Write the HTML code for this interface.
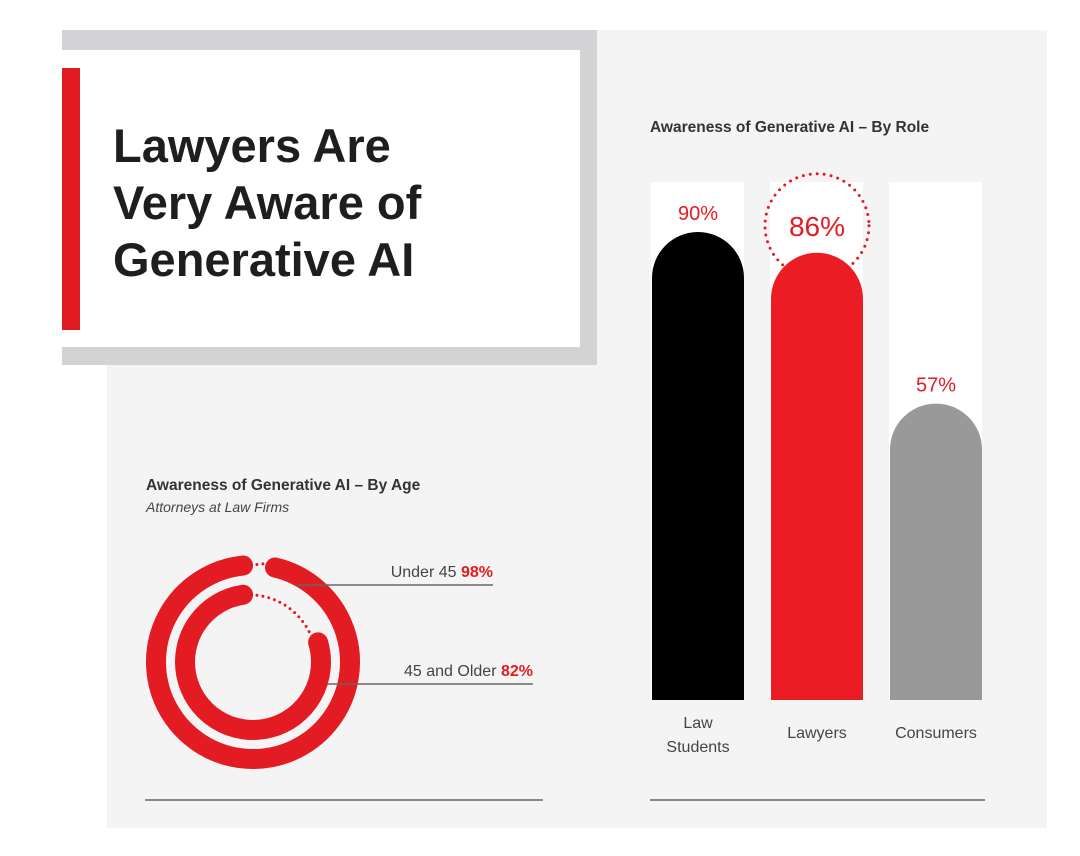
<!DOCTYPE html>
<html><head><meta charset="utf-8"><style>
body{margin:0;width:1080px;height:851px;background:#fff;overflow:hidden;font-family:"Liberation Sans",sans-serif}
</style></head><body>
<svg width="1080" height="851" viewBox="0 0 1080 851" xmlns="http://www.w3.org/2000/svg">
<rect x="107" y="30" width="940" height="798" fill="#f4f4f4"/>
<rect x="62" y="30" width="535" height="335" fill="#d3d3d5"/>
<rect x="62" y="50" width="518" height="297" fill="#fff"/>
<rect x="62" y="68" width="18" height="262" fill="#e31b23"/>
<g font-weight="bold" font-size="47" fill="#1e1e1e">
<text x="113" y="162">Lawyers Are</text>
<text x="113" y="219">Very Aware of</text>
<text x="113" y="276">Generative AI</text>
</g>
<text x="650" y="132" font-size="15.5" font-weight="bold" fill="#333">Awareness of Generative AI – By Role</text>
<text x="146" y="490" font-size="15.5" font-weight="bold" fill="#333">Awareness of Generative AI – By Age</text>
<text x="146" y="512" font-size="14" font-style="italic" fill="#444">Attorneys at Law Firms</text>
<line x1="145" y1="800" x2="543" y2="800" stroke="#888" stroke-width="2"/>
<line x1="650" y1="800" x2="985" y2="800" stroke="#888" stroke-width="2"/>
<g id="bars"></g>
<g id="rings"></g>
</svg>
<script>
const roleCats=["Law Students","Lawyers","Consumers"];
const roleVals=[90,86,57];
const ageCats=["Under 45","45 and Older"];
const ageVals=[98,82];

const NS="http://www.w3.org/2000/svg";
function mk(t,a,p){const e=document.createElementNS(NS,t);for(const k in a)e.setAttribute(k,a[k]);p.appendChild(e);return e;}
// bar chart
const bg=document.getElementById('bars');
const base=700, ppu=5.2, bw=92;
const xs=i=>652+i*119;
const yv=v=>base-v*ppu;
const colors=["#000","#ec1c24","#999"];
roleCats.forEach((c,i)=>{
  const x=xs(i), y=yv(roleVals[i]), r=bw/2;
  const col=mk('rect',{x:x-1,y:182,width:bw+1,height:base-182,fill:'#fff'},bg);
  
  
  const p=mk('path',{d:`M${x},${base} L${x},${y+r} A${r},${r} 0 0 1 ${x+bw},${y+r} L${x+bw},${base} Z`,fill:colors[i]},bg);
  
  
  const big=i===1;
  if(big){
    const ci=mk('circle',{cx:x+r,cy:y-27,r:52,fill:'none',stroke:'#e31b23','stroke-width':3,'stroke-dasharray':'0 7','stroke-linecap':'round'},bg);
    
    
  }
  const t=mk('text',{x:x+r,y:big?y-17:y-12,'text-anchor':'middle','font-size':big?28:20,fill:'#e31b23'},bg);
  t.textContent=roleVals[i]+'%';
  
  
  const words=c.split(' ');
  const lt=mk('text',{x:x+r,'text-anchor':'middle','font-size':16,fill:'#444'},bg);
  
  
  if(words.length>1&&c==="Law Students"){
    words.forEach((w,j)=>{const ts=mk('tspan',{x:x+r,y:728+j*24},lt);ts.textContent=w;});
  } else {lt.setAttribute('y',738);lt.textContent=c;}
});
// rings
const rg=document.getElementById('rings');
const cx=253, cy=662, radii=[97,68], lineY=[585,684], lineX2=[493,533];
ageCats.forEach((c,i)=>{
  const r=radii[i], sweep=ageVals[i]/100*360;
  const cap=10/r*180/Math.PI;
  const a0=-(sweep)+cap, a1=-cap; // degrees from top, counterclockwise arc ending at top
  const pt=a=>[cx+r*Math.sin(a*Math.PI/180), cy-r*Math.cos(a*Math.PI/180)];
  const [sx,sy]=pt(a0-(360-sweep)+ (360-sweep) ), s2=pt(360-sweep+cap-360);
  const st=pt(360-sweep+cap), en=pt(360-cap);
  const large=(sweep-2*cap)>180?1:0;
  const arc=mk('path',{d:`M${st[0]},${st[1]} A${r},${r} 0 ${large} 1 ${en[0]},${en[1]}`,fill:'none',stroke:'#e31b23','stroke-width':20,'stroke-linecap':'round'},rg);
  
  
  const g1=pt(360-cap), g0=pt(360-sweep+cap);
  const gap=mk('path',{d:`M${g1[0]+8},${g1[1]} A${r},${r} 0 0 1 ${g0[0]-6},${g0[1]-4}`,fill:'none',stroke:'#e31b23','stroke-width':3,'stroke-dasharray':'0 6','stroke-linecap':'round'},rg);
  
  
  const ln=mk('line',{x1:cx+Math.sqrt(Math.max(0,107*107-(lineY[i]-cy)**2))-30,y1:lineY[i],x2:lineX2[i],y2:lineY[i],stroke:'#666','stroke-width':1.5},rg);
  
  
  const t=mk('text',{x:lineX2[i],y:lineY[i]-8,'text-anchor':'end','font-size':16,fill:'#444'},rg);
  
  
  const t1=mk('tspan',{},t);t1.textContent=c+'  ';
  const t2=mk('tspan',{fill:'#e31b23','font-weight':'bold'},t);t2.textContent=ageVals[i]+'%';
});
</script>
</body></html>
